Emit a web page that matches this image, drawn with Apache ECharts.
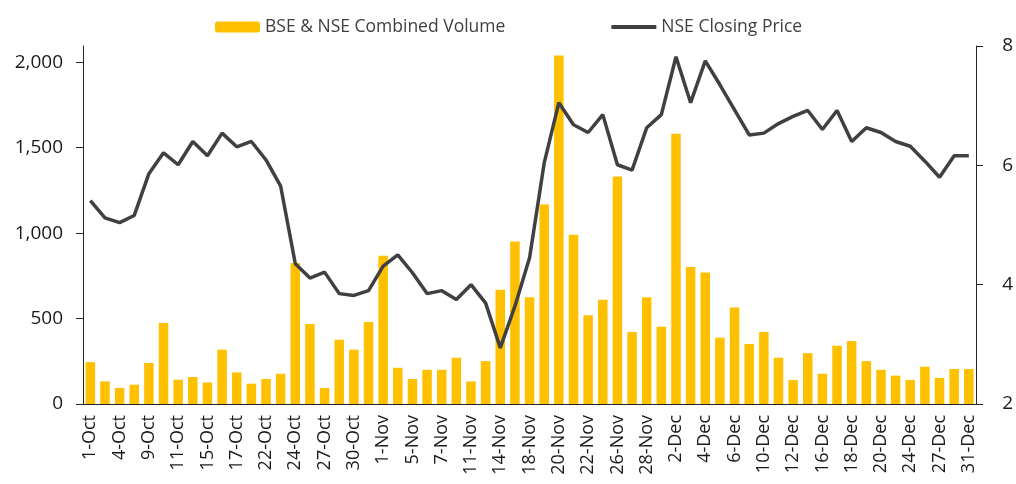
<!DOCTYPE html>
<html>
<head>
<meta charset="utf-8">
<script src="https://cdn.jsdelivr.net/npm/echarts@6/dist/echarts.min.js"></script>
<style>
html, body { margin: 0; padding: 0; background: #fff; }
#main { width: 1016px; height: 484px; }
</style>
</head>
<body>
<div id="main"></div>
<script>
// trading days, Oct - Dec
var dates = ['1-Oct','3-Oct','4-Oct','7-Oct','9-Oct','10-Oct','11-Oct','14-Oct','15-Oct','16-Oct',
    '17-Oct','18-Oct','22-Oct','23-Oct','24-Oct','25-Oct','27-Oct','29-Oct','30-Oct','31-Oct',
    '1-Nov','4-Nov','5-Nov','6-Nov','7-Nov','8-Nov','11-Nov','13-Nov','14-Nov','15-Nov',
    '18-Nov','19-Nov','20-Nov','21-Nov','22-Nov','25-Nov','26-Nov','27-Nov','28-Nov','29-Nov',
    '2-Dec','3-Dec','4-Dec','5-Dec','6-Dec','9-Dec','10-Dec','11-Dec','12-Dec','13-Dec',
    '16-Dec','17-Dec','18-Dec','19-Dec','20-Dec','23-Dec','24-Dec','26-Dec','27-Dec','30-Dec','31-Dec'];

var volume = [245, 132, 94, 113, 240, 474, 142, 158, 126, 318,
    185, 119, 146, 177, 825, 468, 94, 376, 318, 480,
    867, 212, 146, 200, 200, 271, 132, 251, 669, 951,
    624, 1168, 2039, 990, 520, 610, 1331, 421, 624, 452,
    1581, 801, 770, 388, 565, 351, 421, 271, 140, 298,
    177, 341, 368, 251, 200, 166, 140, 218, 152, 205, 205];

var closePrice = [5.41, 5.12, 5.04, 5.16, 5.86, 6.21, 6.01, 6.40, 6.16, 6.54,
    6.31, 6.40, 6.09, 5.65, 4.35, 4.11, 4.21, 3.85, 3.82, 3.90,
    4.31, 4.50, 4.20, 3.85, 3.90, 3.75, 4.00, 3.69, 2.94, 3.64,
    4.45, 6.04, 7.05, 6.68, 6.55, 6.85, 6.01, 5.92, 6.63, 6.85,
    7.82, 7.05, 7.75, 7.35, 6.93, 6.51, 6.54, 6.70, 6.82, 6.92,
    6.60, 6.92, 6.40, 6.63, 6.55, 6.40, 6.32, 6.07, 5.80, 6.16, 6.16];

var leftTicks = [0, 500, 1000, 1500, 2000];

var font = '"Open Sans", sans-serif';
var myChart = echarts.init(document.getElementById('main'));
myChart.setOption({
    backgroundColor: '#ffffff',
    animation: false,
    legend: {
        left: 210,
        top: 13,
        itemWidth: 45,
        itemHeight: 11,
        itemGap: 104,
        textStyle: { fontFamily: font, fontSize: 17.5, color: '#404040' },
        data: [
            { name: 'BSE & NSE Combined Volume' },
            { name: 'NSE Closing Price', itemStyle: { opacity: 0 }, lineStyle: { width: 4 } }
        ]
    },
    grid: { left: 83, right: 38, top: 46, bottom: 80 },
    xAxis: {
        type: 'category',
        data: dates,
        boundaryGap: true,
        axisLine: { lineStyle: { color: '#262626', width: 1 } },
        axisTick: { interval: 0, length: 7, lineStyle: { color: '#262626' } },
        axisLabel: {
            interval: 1,
            rotate: 90,
            margin: 11,
            fontFamily: font,
            fontSize: 18,
            color: '#1a1a1a'
        }
    },
    yAxis: [
        {
            type: 'value',
            min: 0,
            max: 2095,
            interval: 500,
            splitLine: { show: false },
            axisLine: { show: true, lineStyle: { color: '#262626' } },
            axisTick: { show: true, length: 7, customValues: leftTicks, lineStyle: { color: '#262626' } },
            axisLabel: {
                customValues: leftTicks,
                margin: 20,
                fontFamily: font,
                fontSize: 19,
                color: '#1a1a1a',
                formatter: function (v) { return v.toLocaleString('en-US'); }
            }
        },
        {
            type: 'value',
            min: 2,
            max: 8,
            interval: 2,
            splitLine: { show: false },
            axisLine: { show: true, lineStyle: { color: '#262626' } },
            axisTick: { show: true, length: 7, lineStyle: { color: '#262626' } },
            axisLabel: { margin: 26, fontFamily: font, fontSize: 19, color: '#1a1a1a' }
        }
    ],
    series: [
        {
            name: 'BSE & NSE Combined Volume',
            type: 'bar',
            yAxisIndex: 0,
            barCategoryGap: '35%',
            itemStyle: { color: '#FFC000' },
            data: volume
        },
        {
            name: 'NSE Closing Price',
            type: 'line',
            yAxisIndex: 1,
            symbol: 'none',
            lineStyle: { color: '#404040', width: 3.5 },
            itemStyle: { color: '#404040' },
            data: closePrice
        }
    ]
});
</script>
</body>
</html>
